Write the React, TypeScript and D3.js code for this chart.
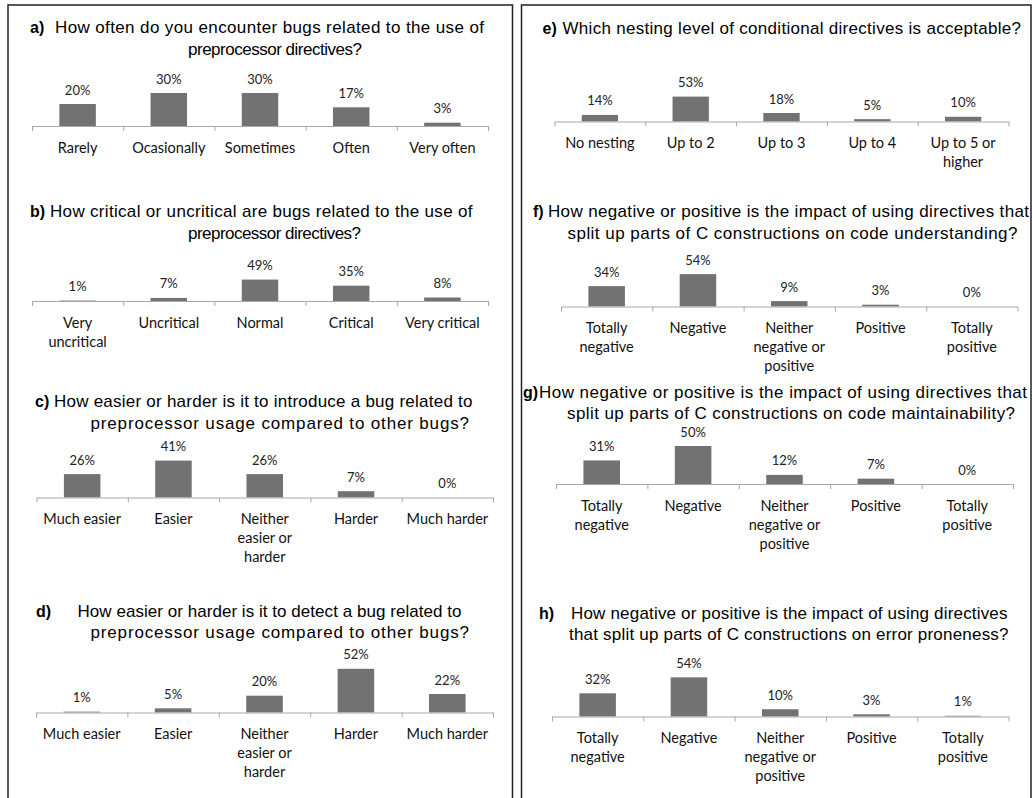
import React, { useEffect, useRef } from 'react';
import * as d3 from 'd3';

const WIDTH = 1032;
const HEIGHT = 798;
const BAR_FILL = '#727272';
const AXIS_GREY = '#a8a8a8';
const TITLE_FONT = '"Liberation Sans", Arial, sans-serif';
const LABEL_FONT = 'Lato, "Open Sans", sans-serif';

// categories (\n = line break in the tick label)
const freqCats = ['Rarely', 'Ocasionally', 'Sometimes', 'Often', 'Very often'];
const critCats = ['Very\nuncritical', 'Uncritical', 'Normal', 'Critical', 'Very critical'];
const easeCats = ['Much easier', 'Easier', 'Neither\neasier or\nharder', 'Harder', 'Much harder'];
const nestCats = ['No nesting', 'Up to 2', 'Up to 3', 'Up to 4', 'Up to 5 or\nhigher'];
const impactCats = ['Totally\nnegative', 'Negative', 'Neither\nnegative or\npositive', 'Positive', 'Totally\npositive'];

// percentages
const freqVals = [20, 30, 30, 17, 3];
const critVals = [1, 7, 49, 35, 8];
const introVals = [26, 41, 26, 7, 0];
const detectVals = [1, 5, 20, 52, 22];
const nestVals = [14, 53, 18, 5, 10];
const understandVals = [34, 54, 9, 3, 0];
const maintainVals = [31, 50, 12, 7, 0];
const errorVals = [32, 54, 10, 3, 1];

// titles
const titleA = ['How often do you encounter bugs related to the use of', 'preprocessor directives?'];
const titleB = ['How critical or uncritical are bugs related to the use of', 'preprocessor directives?'];
const titleC = ['How easier or harder is it to introduce a bug related to', 'preprocessor usage compared to other bugs?'];
const titleD = ['How easier or harder is it to detect a bug related to', 'preprocessor usage compared to other bugs?'];
const titleE = ['Which nesting level of conditional directives is acceptable?'];
const titleF = ['How negative or positive is the impact of using directives that', 'split up parts of C constructions on code understanding?'];
const titleG = ['How negative or positive is the impact of using directives that', 'split up parts of C constructions on code maintainability?'];
const titleH = ['How negative or positive is the impact of using directives', 'that split up parts of C constructions on error proneness?'];

// layout per panel: each title line is fitted between [start, end]
const panels = [
  { tag: 'a)', title: titleA, cats: freqCats, vals: freqVals, x0: 32, x1: 488, axisY: 126, pxPer: 1.1, tagX: 30,
    spans: [[55, 484], [188, 362]], base: [33, 55] },
  { tag: 'b)', title: titleB, cats: critCats, vals: critVals, x0: 32, x1: 488, axisY: 301, pxPer: 0.437, tagX: 30,
    spans: [[50, 472.5], [188, 361]], base: [216.5, 238.5] },
  { tag: 'c)', title: titleC, cats: easeCats, vals: introVals, x0: 36.5, x1: 493, axisY: 497.5, pxPer: 0.9, tagX: 35,
    spans: [[54, 472.5], [90.5, 469]], base: [406.5, 428.5] },
  { tag: 'd)', title: titleD, cats: easeCats, vals: detectVals, x0: 36, x1: 493, axisY: 712.5, pxPer: 0.84, tagX: 36,
    spans: [[77.5, 461.5], [90.5, 469]], base: [616.5, 637.5] },
  { tag: 'e)', title: titleE, cats: nestCats, vals: nestVals, x0: 554.5, x1: 1008.5, axisY: 121.5, pxPer: 0.47, tagX: 542.5,
    spans: [[562.5, 1021]], base: [34] },
  { tag: 'f)', title: titleF, cats: impactCats, vals: understandVals, x0: 561, x1: 1017.5, axisY: 306.5, pxPer: 0.6, tagX: 533,
    spans: [[548, 1029], [567.5, 1017.5]], base: [217, 238.5] },
  { tag: 'g)', title: titleG, cats: impactCats, vals: maintainVals, x0: 556, x1: 1013, axisY: 484, pxPer: 0.76, tagX: 523,
    spans: [[539, 1027], [567, 1015]], base: [398, 419] },
  { tag: 'h)', title: titleH, cats: impactCats, vals: errorVals, x0: 552, x1: 1008.5, axisY: 716.5, pxPer: 0.725, tagX: 539,
    spans: [[571, 1007.5], [569, 1008.5]], base: [618.5, 639.5] },
];

const Panel = ({ p }) => {
  const axisRef = useRef(null);

  const x = d3.scaleBand()
    .domain(p.cats)
    .range([p.x0, p.x1])
    .paddingInner(0.6)
    .paddingOuter(0.3);

  const y = d3.scaleLinear()
    .domain([0, 100])
    .range([p.axisY, p.axisY - p.pxPer * 100]);

  useEffect(() => {
    const tickScale = d3.scaleLinear()
      .domain([0, p.cats.length])
      .range([p.x0, p.x1]);
    const g = d3.select(axisRef.current);
    g.call(
      d3.axisBottom(tickScale)
        .tickValues(d3.range(p.cats.length + 1))
        .tickSize(5)
        .tickSizeOuter(0)
        .tickFormat(() => '')
    );
    g.selectAll('path, line').attr('stroke', AXIS_GREY);
  }, [p]);

  return (
    <g>
      <g fontFamily={TITLE_FONT} fontSize={17} fill="#000">
        <text x={p.tagX} y={p.base[0]} fontWeight="bold" fontSize={16}>{p.tag}</text>
        {p.title.map((t, i) =>
          <text key={i} x={p.spans[i][0]} y={p.base[i]}
            textLength={p.spans[i][1] - p.spans[i][0]} lengthAdjust="spacing">{t}</text>
        )}
      </g>
      {p.cats.map((c, i) => {
        const cx = x(c) + x.bandwidth() / 2;
        const v = p.vals[i];
        return (
          <g key={c}>
            <rect x={x(c)} y={y(v)} width={x.bandwidth()} height={p.axisY - y(v)} fill={BAR_FILL} />
            <text x={cx} y={y(v) - 9.5} textAnchor="middle" fontFamily={LABEL_FONT} fontSize={13} fill="#222">
              {v + '%'}
            </text>
            <text textAnchor="middle" fontFamily={LABEL_FONT} fontSize={14.5} fill="#111">
              {c.split('\n').map((line, j) =>
                <tspan key={j} x={cx} y={p.axisY + 26.5 + j * 19}>{line}</tspan>
              )}
            </text>
          </g>
        );
      })}
      <g ref={axisRef} transform={`translate(0, ${p.axisY})`} />
    </g>
  );
};

const App = () => {
  return (
    <svg width={WIDTH} height={HEIGHT} style={{ position: 'absolute', left: 0, top: 0, background: '#fff' }}>
      <rect x={8} y={5} width={504.5} height={820} fill="none" stroke="#222" strokeWidth={1.5} />
      <rect x={521.5} y={5} width={509.5} height={820} fill="none" stroke="#222" strokeWidth={1.5} />
      {panels.map(p => <Panel key={p.tag} p={p} />)}
    </svg>
  );
};

export default App;
